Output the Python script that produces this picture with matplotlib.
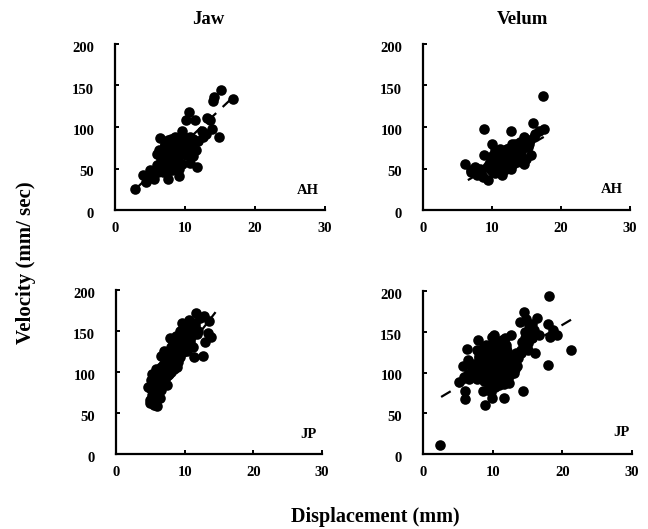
import matplotlib
matplotlib.use("Agg")
import matplotlib.pyplot as plt
from matplotlib.transforms import ScaledTranslation

plt.rcParams['font.family'] = ['Liberation Serif', 'DejaVu Serif']
plt.rcParams['font.weight'] = 'bold'

W, H = 648, 529

# values (displacement mm, velocity mm/sec)
jaw_ah_x = [2.9, 4.0, 4.4, 5.5, 7.5, 9.1, 9.2, 11.7, 14.8, 13.8, 13.6, 13.2, 14.0, 14.1, 15.1, 16.9,
            10.5, 10.2, 11.4, 9.5, 12.4, 12.5, 6.4, 8.6, 6.0, 10.7, 11.9, 10.2, 11.1, 10.7,
            5.2, 5.8, 6.1, 6.4, 6.8, 7.0, 7.2, 7.4, 7.6, 7.8, 8.0, 8.2, 8.4, 8.6, 8.8, 9.0, 9.3, 9.6,
            6.6, 7.0, 7.3, 7.6, 7.9, 8.2, 8.5, 8.8, 7.1, 7.5, 8.0, 8.4, 9.8, 10.1, 11.2, 6.2, 6.9, 8.1, 4.9, 5.5,
            6.8, 7.2, 7.6, 8.0, 8.4, 8.8, 9.2, 6.5, 7.0, 7.5, 8.0, 8.5, 9.0,
            7.3, 7.8, 8.3, 8.8, 9.3, 9.8, 10.3, 10.8, 6.0, 6.6, 5.0, 6.3, 9.6, 11.0, 11.6, 13.0]
jaw_ah_y = [25, 42, 34, 37, 37, 41, 50, 52, 88, 97, 109, 111, 131, 136, 145, 134,
            118, 108, 108, 95, 95, 88, 87, 88, 68, 88, 83, 66, 65, 57,
            44, 48, 52, 56, 60, 63, 66, 70, 74, 78, 66, 72, 78, 84, 72, 80, 82, 78,
            50, 54, 58, 62, 56, 60, 64, 68, 80, 84, 86, 62, 88, 72, 85, 46, 46, 48, 40, 46,
            74, 78, 82, 70, 74, 76, 68, 62, 68, 60, 64, 56, 60,
            52, 48, 54, 58, 74, 82, 80, 78, 54, 50, 48, 72, 55, 75, 72, 92]
vel_ah_x = [17.4, 17.6, 15.9, 8.9, 12.8, 14.6, 16.1, 10.0, 12.9, 8.9, 6.1, 9.4, 7.8, 7.8, 6.9, 11.4, 14.6, 15.6,
            16.8, 15.3, 14.0, 13.5, 7.2, 8.4, 9.6, 10.0, 10.3, 10.5, 10.8, 11.0, 11.2, 11.5, 11.8, 12.0, 12.3,
            12.6, 13.0, 13.4, 13.8, 14.2, 10.4, 10.8, 11.2, 11.6, 12.0, 12.4, 12.8, 13.2, 13.6, 10.6, 11.1, 11.6,
            9.8, 10.2, 9.3, 10.9, 11.3, 12.2, 14.9, 15.2,
            7.0, 7.5, 8.2, 8.7, 9.9, 10.3, 10.7, 11.1, 11.5, 11.9, 12.3, 12.7, 13.1, 13.5,
            9.7, 10.1, 10.6, 11.0, 11.4, 11.8, 12.2, 12.6, 13.0, 13.4, 13.9, 14.3, 14.8, 15.5, 16.3]
vel_ah_y = [137, 97, 105, 97, 95, 88, 88, 80, 80, 66, 55, 36, 50, 42, 46, 42, 56, 66,
            95, 80, 82, 76, 48, 44, 56, 50, 62, 72, 48, 55, 68, 45, 60, 50, 70,
            58, 68, 62, 72, 70, 44, 52, 60, 52, 62, 56, 50, 64, 58, 70, 74, 66,
            60, 66, 52, 64, 48, 74, 62, 76,
            48, 52, 50, 40, 48, 54, 58, 62, 66, 54, 64, 60, 56, 70,
            54, 46, 64, 46, 58, 70, 74, 65, 74, 80, 66, 62, 76, 84, 92]
jaw_jp_x = [4.9, 5.0, 5.3, 5.6, 6.0, 6.4, 5.0, 4.7, 5.1, 5.5, 6.0, 6.5, 7.0, 7.4, 5.3, 5.8, 6.3, 6.8,
            7.2, 7.6, 8.0, 8.4, 8.8, 9.2, 6.6, 7.0, 7.5, 8.0, 8.5, 9.0, 9.5, 10.0, 10.4, 10.8, 11.2,
            7.9, 8.3, 8.8, 9.3, 9.8, 10.3, 10.8, 11.3, 11.8, 9.6, 10.1, 10.6, 11.0, 11.6, 11.5, 12.2, 12.8,
            13.5, 13.8, 13.4, 12.9, 11.3, 12.6, 10.2, 9.8, 8.2, 8.9, 7.7, 7.3, 6.9,
            5.2, 5.6, 6.0, 6.4, 5.4, 5.8, 6.2, 6.6, 7.0, 6.0, 6.5, 7.0, 7.5, 8.0,
            7.2, 7.6, 8.1, 8.6, 9.1, 7.8, 8.3, 8.8, 9.3, 9.8, 8.6, 9.1, 9.6, 10.1, 10.6,
            9.3, 9.8, 10.3, 10.8, 11.3, 10.0, 10.5, 11.0, 11.5, 12.0]
jaw_jp_y = [62, 66, 64, 60, 58, 68, 80, 82, 90, 74, 70, 78, 88, 84, 98, 104, 95, 108,
            100, 112, 108, 104, 114, 122, 120, 126, 118, 130, 124, 116, 128, 134, 126, 140, 130,
            142, 136, 144, 138, 132, 148, 142, 150, 146, 160, 156, 164, 154, 172, 160, 166, 168,
            162, 143, 148, 136, 118, 120, 150, 144, 110, 106, 98, 94, 92,
            72, 78, 84, 90, 88, 94, 86, 92, 98, 100, 106, 102, 96, 100,
            112, 118, 114, 108, 112, 124, 128, 120, 118, 124, 136, 132, 128, 138, 132,
            150, 146, 142, 136, 146, 158, 152, 160, 156, 150]
vel_jp_x = [18.1, 2.5, 21.3, 17.9, 14.5, 16.3, 17.9, 19.2, 18.3, 18.7, 7.9, 9.9, 12.7, 6.3, 7.7, 5.8, 6.5,
            5.1, 6.0, 6.1, 8.6, 8.9, 9.9, 11.6, 14.3, 9.6, 12.4, 16.1, 16.7, 13.9,
            5.9, 6.6, 7.2, 7.8, 8.3, 8.8, 9.2, 9.6, 10.0, 10.4, 10.8, 11.2, 11.6, 12.0, 12.4, 12.8, 13.2,
            7.5, 8.0, 8.6, 9.1, 9.6, 10.1, 10.6, 11.1, 11.6, 12.1, 12.6, 13.1, 13.6, 14.1, 14.6, 15.1, 15.6,
            8.1, 8.7, 9.3, 9.9, 10.5, 11.1, 11.7, 12.3, 13.4, 14.0, 14.7, 15.3, 15.9, 10.2, 10.7, 11.3, 11.9,
            9.0, 9.5, 10.0, 10.9, 11.5, 12.1, 14.6, 15.2, 9.3, 9.8, 10.4, 10.9,
            7.0, 7.5, 8.0, 8.5, 9.0, 9.5, 10.0, 10.5, 11.0, 11.5, 12.0, 12.5, 13.0, 13.5,
            7.8, 8.3, 8.8, 9.3, 9.8, 10.3, 10.8, 11.3, 11.8, 12.3, 12.8, 13.3,
            8.6, 9.1, 9.6, 10.1, 10.6, 11.1, 11.6, 12.1, 9.4, 9.9, 10.4, 10.9, 11.4, 11.9,
            10.2, 10.7, 11.2, 11.7, 14.6, 15.1, 15.6, 14.2, 14.8, 6.4, 6.9]
vel_jp_y = [194, 11, 127, 109, 174, 167, 160, 146, 143, 152, 140, 144, 146, 129, 128, 108, 115,
            88, 77, 67, 77, 60, 69, 69, 77, 87, 87, 124, 146, 162,
            94, 92, 96, 100, 94, 98, 92, 96, 90, 94, 88, 92, 86, 90, 96, 100, 104,
            110, 105, 112, 108, 102, 106, 100, 104, 98, 102, 108, 112, 118, 124, 130, 136, 142,
            120, 124, 118, 122, 116, 110, 114, 118, 124, 128, 138, 148, 152, 128, 135, 125, 130,
            132, 126, 136, 138, 132, 120, 150, 158, 80, 76, 82, 85,
            105, 100, 118, 110, 104, 112, 106, 114, 104, 110, 100, 106, 100, 108,
            92, 126, 90, 118, 112, 96, 122, 116, 108, 112, 118, 116,
            130, 134, 100, 114, 128, 110, 122, 126, 124, 118, 100, 138, 140, 134,
            146, 128, 136, 142, 142, 128, 160, 138, 166, 98, 110]

# dashed fit lines, end points in data units
jaw_ah_fit = ([2.9, 17.0], [25, 137])
vel_ah_fit = ([6.5, 17.5], [36, 88])
jaw_jp_fit = ([5.0, 14.5], [70, 173])
vel_jp_fit = ([2.6, 21.5], [70, 166])

panels = [
    (jaw_ah_x, jaw_ah_y, jaw_ah_fit, "AH", (115, 325, 44, 210), (308, 190)),
    (vel_ah_x, vel_ah_y, vel_ah_fit, "AH", (423, 630, 44, 210), (612, 189)),
    (jaw_jp_x, jaw_jp_y, jaw_jp_fit, "JP", (116, 322, 290, 454), (308, 434)),
    (vel_jp_x, vel_jp_y, vel_jp_fit, "JP", (423, 632, 291, 454), (621, 433)),
]

fig = plt.figure(figsize=(W / 100, H / 100), dpi=100, facecolor="white")
# y tick labels sit a little under their ticks in the original
shift_down = ScaledTranslation(0, -3 / 100, fig.dpi_scale_trans)

for xs, ys, fit, who, (l, r, t, b), (lx, ly) in panels:
    ax = fig.add_axes([l / W, 1 - b / H, (r - l) / W, (b - t) / H])
    ax.plot(fit[0], fit[1], color="black", lw=1.6, ls=(0, (5, 4)), zorder=1)
    ax.scatter(xs, ys, s=58, color="black", linewidths=0, zorder=2, clip_on=False)
    ax.set_xlim(0, 30)
    ax.set_ylim(0, 200)
    ax.set_xticks([0, 10, 20, 30])
    ax.set_yticks([0, 50, 100, 150, 200])
    ax.tick_params(direction="in", length=3, width=1.4, labelsize=10.5)
    ax.tick_params(axis="y", pad=15)
    ax.tick_params(axis="x", pad=9)
    for lab in ax.get_yticklabels():
        lab.set_transform(lab.get_transform() + shift_down)
    ax.patch.set_alpha(0)
    for side in ["top", "right"]:
        ax.spines[side].set_visible(False)
    for side in ["left", "bottom"]:
        ax.spines[side].set_linewidth(1.6)
    fig.text(lx / W, 1 - ly / H, who, fontsize=10.5, ha="center", va="center")

fig.text(208 / W, 1 - 20 / H, "Jaw", fontsize=13.5, ha="center", va="center")
fig.text(522 / W, 1 - 20 / H, "Velum", fontsize=13.5, ha="center", va="center")
fig.text(26 / W, 1 - 263 / H, "Velocity (mm/ sec)", fontsize=15, rotation=90, ha="center", va="center")
fig.text(375 / W, 1 - 517 / H, "Displacement (mm)", fontsize=14.5, ha="center", va="center")

fig.savefig("out.png", dpi=100)
